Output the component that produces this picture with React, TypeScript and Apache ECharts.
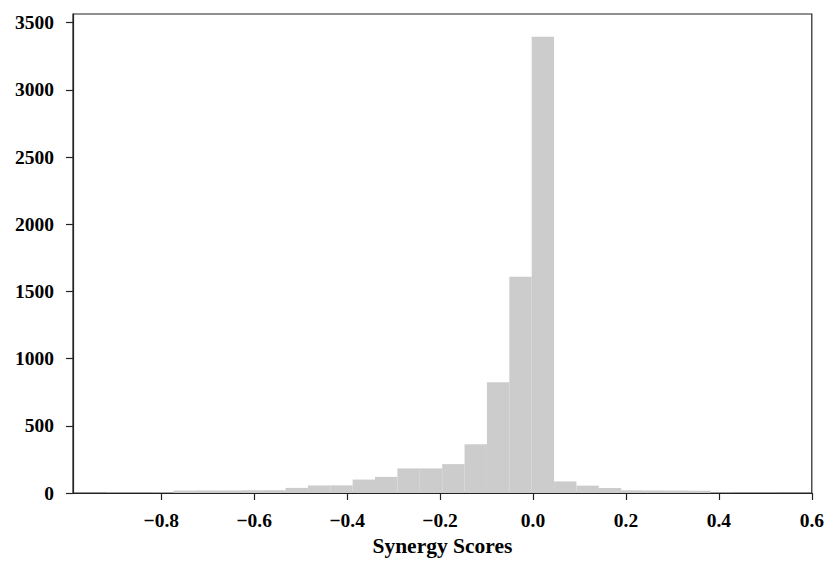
import React, { useEffect, useRef } from "react";
import * as echarts from "echarts";

// Histogram of synergy scores: 30 equal bins between the data min and max
const BIN_MIN = -0.918;
const BIN_MAX = 0.527;
const counts = [
  1, 2, 3, 18, 19, 19, 20, 21, 38, 56,
  57, 100, 120, 183, 183, 215, 363, 825, 1610, 3395,
  86, 55, 37, 20, 19, 18, 17, 2, 1, 1,
];
const xTicks = [-0.8, -0.6, -0.4, -0.2, 0.0, 0.2, 0.4, 0.6];
const yTicks = [0, 500, 1000, 1500, 2000, 2500, 3000, 3500];
const xLabel = "Synergy Scores";

const FONT = "'Liberation Serif', 'DejaVu Serif', serif";

export default function App() {
  const ref = useRef<HTMLDivElement>(null);
  useEffect(() => {
    if (!ref.current) return;
    const chart = echarts.init(ref.current, undefined, { renderer: "svg" });
    const n = counts.length;
    const w = (BIN_MAX - BIN_MIN) / n;
    const data = counts.map((c, i) => [BIN_MIN + i * w, BIN_MIN + (i + 1) * w, c]);
    const labelStyle = {
      fontFamily: FONT,
      fontWeight: "bold" as const,
      fontSize: 19.5,
      color: "#000",
    };
    chart.setOption({
      animation: false,
      backgroundColor: "#fff",
      grid: {
        left: 73,
        right: 13,
        top: 14,
        bottom: 66,
        show: true,
        borderColor: "#222",
        borderWidth: 1.2,
        backgroundColor: "transparent",
      },
      xAxis: {
        type: "value",
        min: -0.99,
        max: 0.6,
        name: xLabel,
        nameLocation: "middle",
        nameGap: 42,
        nameTextStyle: { ...labelStyle, fontSize: 21.5 },
        splitLine: { show: false },
        axisLine: { show: true, onZero: false, lineStyle: { color: "#222", width: 1.2 } },
        axisTick: {
          show: true,
          length: 7,
          customValues: xTicks,
          lineStyle: { color: "#222", width: 1.2 },
        },
        axisLabel: {
          ...labelStyle,
          margin: 17,
          customValues: xTicks,
          formatter: (v: number) => v.toFixed(1).replace("-", "\u2212"),
        },
      },
      yAxis: {
        type: "value",
        min: 0,
        max: 3565,
        splitLine: { show: false },
        axisLine: { show: true, onZero: false, lineStyle: { color: "#222", width: 1.2 } },
        axisTick: {
          show: true,
          length: 7,
          customValues: yTicks,
          lineStyle: { color: "#222", width: 1.2 },
        },
        axisLabel: {
          ...labelStyle,
          margin: 19,
          customValues: yTicks,
          formatter: (v: number) => String(v),
        },
      },
      series: [
        {
          type: "custom",
          data,
          encode: { x: [0, 1], y: 2 },
          clip: true,
          renderItem: (params: any, api: any) => {
            const x0 = api.value(0);
            const x1 = api.value(1);
            const y = api.value(2);
            const p0 = api.coord([x0, y]);
            const p1 = api.coord([x1, 0]);
            return {
              type: "rect",
              shape: { x: p0[0], y: p0[1], width: p1[0] - p0[0], height: p1[1] - p0[1] },
              style: { fill: "#cccccc" },
            };
          },
        },
      ],
    });
    return () => chart.dispose();
  }, []);
  return (
    <div
      ref={ref}
      style={{ position: "fixed", left: 0, top: 0, width: 827, height: 562, background: "#fff" }}
    />
  );
}
